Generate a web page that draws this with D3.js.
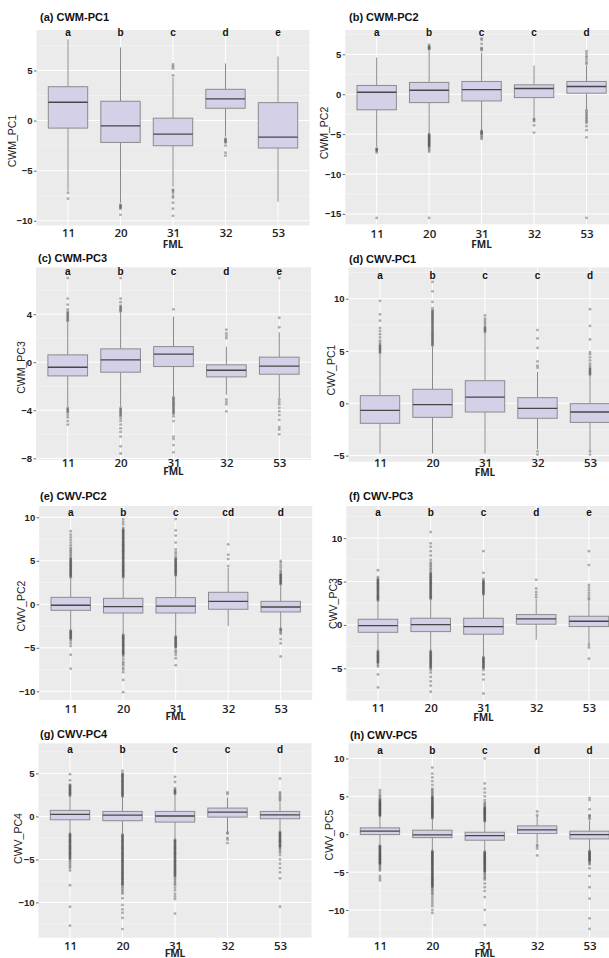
<!DOCTYPE html>
<html>
<head>
<meta charset="utf-8">
<script src="https://cdn.jsdelivr.net/npm/d3@7"></script>
<style>
  html, body { margin: 0; padding: 0; background: #ffffff; }
  svg { display: block; }
</style>
</head>
<body>
<div id="chart"></div>
<script>
// ---------------- DATA ----------------
const categories = ["11", "20", "31", "32", "53"];
const panelTitles = ["(a) CWM-PC1", "(b) CWM-PC2", "(c) CWM-PC3", "(d) CWV-PC1",
                     "(e) CWV-PC2", "(f) CWV-PC3", "(g) CWV-PC4", "(h) CWV-PC5"];
const yAxisTitles = ["CWM_PC1", "CWM_PC2", "CWM_PC3", "CWV_PC1",
                     "CWV_PC2", "CWV_PC3", "CWV_PC4", "CWV_PC5"];
const xAxisTitle = "FML";
const groupLetters = [
  ["a", "b", "c", "d", "e"],
  ["a", "b", "c", "c", "d"],
  ["a", "b", "c", "d", "e"],
  ["a", "b", "c", "c", "d"],
  ["a", "b", "c", "cd", "d"],
  ["a", "b", "c", "d", "e"],
  ["a", "b", "c", "c", "d"],
  ["a", "b", "c", "d", "d"]
];
const yTickValues = [
  [-10, -5, 0, 5],
  [-15, -10, -5, 0, 5],
  [-8, -4, 0, 4],
  [-5, 0, 5, 10],
  [-10, -5, 0, 5, 10],
  [-5, 0, 5, 10],
  [-10, -5, 0, 5],
  [-10, -5, 0, 5, 10]
];
const q1Values = [
  [-0.75, -2.18, -2.51, 1.23, -2.74],
  [-1.95, -1.05, -0.84, -0.42, 0.13],
  [-1.14, -0.83, -0.36, -1.22, -1.0],
  [-1.91, -1.34, -0.83, -1.43, -1.82],
  [-0.69, -1.0, -1.0, -0.57, -0.88],
  [-0.85, -0.77, -1.07, 0.08, -0.19],
  [-0.39, -0.5, -0.66, -0.08, -0.27],
  [-0.05, -0.45, -0.79, 0.08, -0.62]
];
const medianValues = [
  [1.83, -0.53, -1.35, 2.16, -1.65],
  [0.25, 0.5, 0.59, 0.72, 0.97],
  [-0.42, 0.19, 0.67, -0.67, -0.33],
  [-0.67, -0.13, 0.6, -0.48, -0.83],
  [-0.11, -0.27, -0.2, 0.34, -0.31],
  [-0.08, 0.03, -0.19, 0.69, 0.42],
  [0.23, 0.15, 0.05, 0.5, 0.19],
  [0.4, -0.09, -0.18, 0.57, -0.05]
];
const q3Values = [
  [3.38, 1.93, 0.24, 3.12, 1.79],
  [1.1, 1.48, 1.6, 1.18, 1.6],
  [0.61, 1.11, 1.3, -0.22, 0.42],
  [0.73, 1.34, 2.16, 0.54, -0.03],
  [0.8, 0.69, 0.77, 1.38, 0.34],
  [0.65, 0.77, 0.77, 1.19, 1.0],
  [0.7, 0.58, 0.58, 0.97, 0.58],
  [0.84, 0.53, 0.26, 1.1, 0.4]
];
const whiskerLow = [
  [-7.0, -8.2, -6.6, -1.6, -8.1],
  [-6.6, -4.9, -4.5, -2.9, -1.9],
  [-3.7, -3.7, -2.8, -2.7, -3.0],
  [-4.8, -4.8, -4.8, -4.4, -4.5],
  [-2.9, -3.4, -3.6, -2.5, -2.7],
  [-2.9, -2.9, -3.6, -1.7, -2.2],
  [-1.9, -2.0, -2.6, -1.8, -1.7],
  [-1.4, -2.1, -2.2, -1.2, -2.1]
];
const whiskerHigh = [
  [8.1, 7.3, 4.3, 5.7, 6.4],
  [4.6, 5.4, 5.2, 3.6, 3.6],
  [3.3, 4.1, 3.8, 1.3, 2.5],
  [4.7, 5.4, 6.7, 3.0, 2.6],
  [3.0, 3.0, 3.2, 4.2, 2.2],
  [2.7, 2.9, 3.4, 3.0, 2.7],
  [2.3, 2.2, 2.5, 2.2, 1.6],
  [2.3, 2.0, 1.6, 2.4, 1.8]
];
const outlierValues = [
  // (a) CWM-PC1
  [
    [-7.2, -7.8],
    [-8.4, -8.5, -8.6, -8.7, -8.8, -9.4],
    [4.5, 5.2, 5.4, 5.6, -6.9, -7.0, -7.2, -7.5, -7.7, -8.2, -8.8, -9.5],
    [-1.8, -1.9, -2.0, -2.1, -2.2, -2.5, -3.2, -3.5],
    []
  ],
  // (b) CWM-PC2
  [
    [-6.8, -6.9, -7.0, -7.1, -7.3, -15.5],
    [5.6, 5.7, 5.8, 5.9, 6.0, 6.2, -5.0, -5.1, -5.2, -5.3, -5.4, -5.5, -5.6, -5.7, -5.8, -5.9, -6.0, -6.1, -6.2, -6.3, -6.4, -6.5, -6.6, -6.8, -7.0, -7.2, -15.5],
    [5.5, 5.7, 5.8, 6.3, 6.8, 7.0, -4.6, -4.7, -4.8, -4.9, -5.0, -5.2, -5.4, -5.6],
    [-3.1, -3.2, -3.4, -3.9, -4.8],
    [3.8, 4.0, 4.3, 4.6, 4.8, 5.1, 5.4, -2.0, -2.2, -2.4, -2.6, -2.8, -3.0, -3.2, -3.4, -3.6, -4.0, -4.5, -5.4, -15.5]
  ],
  // (c) CWM-PC3
  [
    [3.4, 3.5, 3.6, 3.7, 3.8, 3.9, 4.0, 4.1, 4.2, 4.4, 4.8, 5.3, 7.0, -3.8, -3.9, -4.0, -4.1, -4.2, -4.4, -4.6, -4.9, -5.2],
    [4.2, 4.3, 4.4, 4.5, 4.6, 4.7, 5.0, 5.3, 7.0, -3.8, -3.9, -4.0, -4.1, -4.2, -4.3, -4.4, -4.5, -4.7, -4.9, -5.2, -5.5, -5.8, -6.2, -7.0, -7.6],
    [4.4, -2.9, -3.0, -3.1, -3.2, -3.3, -3.4, -3.5, -3.6, -3.7, -3.8, -3.9, -4.0, -4.1, -4.2, -4.3, -4.5, -4.9, -6.2, -6.4, -6.9, -7.5],
    [2.0, 2.2, 2.4, 2.7, -3.1, -3.3, -3.5, -4.1],
    [2.9, 3.7, 7.0, -3.1, -3.3, -3.5, -3.8, -4.1, -4.4, -4.8, -5.4, -5.6, -6.0]
  ],
  // (d) CWV-PC1
  [
    [4.8, 4.9, 5.0, 5.1, 5.2, 5.3, 5.4, 5.5, 5.6, 5.8, 6.0, 6.3, 6.6, 6.9, 7.2, 7.9, 8.5, 9.8],
    [5.5, 5.6, 5.7, 5.8, 5.9, 6.0, 6.1, 6.2, 6.3, 6.4, 6.5, 6.6, 6.7, 6.8, 6.9, 7.0, 7.1, 7.2, 7.3, 7.4, 7.5, 7.6, 7.7, 7.8, 7.9, 8.0, 8.1, 8.2, 8.3, 8.4, 8.5, 8.6, 8.7, 8.8, 8.9, 9.1, 9.7, 10.7, 11.6],
    [6.8, 6.9, 7.0, 7.1, 7.2, 7.3, 7.5, 7.7, 7.9, 8.1, 8.4],
    [3.4, 3.6, 4.0, 5.3, 6.2, 7.0, -4.6, -4.9],
    [2.7, 2.8, 2.9, 3.0, 3.1, 3.2, 3.3, 3.4, 3.6, 3.8, 4.1, 4.4, 4.7, 4.9, 6.1, 7.4, 9.0, -4.6, -4.9]
  ],
  // (e) CWV-PC2
  [
    [3.1, 3.2, 3.3, 3.4, 3.5, 3.6, 3.7, 3.8, 3.9, 4.0, 4.1, 4.2, 4.3, 4.4, 4.5, 4.6, 4.7, 4.8, 4.9, 5.0, 5.1, 5.2, 5.3, 5.5, 5.7, 5.9, 6.1, 6.3, 6.5, 6.8, 7.1, 7.4, 7.7, 8.0, 8.4,
     -3.0, -3.1, -3.2, -3.3, -3.4, -3.5, -3.6, -3.7, -3.8, -3.9, -4.0, -4.2, -4.5, -4.8, -5.8, -7.4],
    [3.1, 3.2, 3.3, 3.4, 3.5, 3.6, 3.7, 3.8, 3.9, 4.0, 4.1, 4.2, 4.3, 4.4, 4.5, 4.6, 4.7, 4.8, 4.9, 5.0, 5.1, 5.2, 5.3, 5.4, 5.5, 5.6, 5.7, 5.8, 5.9, 6.0,
     6.1, 6.2, 6.3, 6.4, 6.5, 6.6, 6.7, 6.8, 6.9, 7.0, 7.1, 7.2, 7.3, 7.4, 7.5, 7.6, 7.7, 7.8, 7.9, 8.0, 8.1, 8.2, 8.3, 8.4, 8.5, 8.6, 8.8, 9.2, 9.5, 9.8,
     -3.5, -3.6, -3.7, -3.8, -3.9, -4.0, -4.1, -4.2, -4.3, -4.4, -4.5, -4.6, -4.7, -4.8, -4.9, -5.0, -5.1, -5.2, -5.3, -5.4, -5.5, -5.6, -5.7, -5.8, -6.0,
     -6.3, -6.6, -6.8, -7.0, -7.3, -7.5, -7.8, -8.7, -10.1],
    [3.3, 3.4, 3.5, 3.6, 3.7, 3.8, 3.9, 4.0, 4.1, 4.2, 4.3, 4.4, 4.5, 4.6, 4.7, 4.8, 4.9, 5.0, 5.1, 5.2, 5.3, 5.5, 5.8, 6.0, 6.3, 7.1, 7.9, 8.5, 9.8,
     -3.7, -3.8, -3.9, -4.0, -4.1, -4.2, -4.3, -4.4, -4.5, -4.6, -4.7, -4.8, -4.9, -5.0, -5.3, -5.5, -5.8, -6.2, -7.0],
    [4.4, 5.2, 5.7, 6.9],
    [2.3, 2.4, 2.5, 2.6, 2.7, 2.8, 2.9, 3.0, 3.1, 3.2, 3.3, 3.4, 3.5, 3.7, 3.9, 4.2, 4.5, 4.8, 5.0,
     -2.8, -2.9, -3.0, -3.2, -3.4, -4.0, -4.5, -6.0]
  ],
  // (f) CWV-PC3
  [
    [2.8, 2.9, 3.0, 3.1, 3.2, 3.3, 3.4, 3.5, 3.6, 3.7, 3.8, 3.9, 4.0, 4.1, 4.2, 4.3, 4.4, 4.5, 4.6, 4.7, 4.8, 4.9, 5.0, 5.1, 5.2, 5.3, 5.5, 6.3,
     -3.0, -3.1, -3.2, -3.3, -3.4, -3.5, -3.6, -3.7, -3.8, -3.9, -4.0, -4.1, -4.2, -4.3, -4.4, -4.6, -4.8, -5.7, -7.2],
    [3.0, 3.1, 3.2, 3.3, 3.4, 3.5, 3.6, 3.7, 3.8, 3.9, 4.0, 4.1, 4.2, 4.3, 4.4, 4.5, 4.6, 4.7, 4.8, 4.9, 5.0, 5.1, 5.2, 5.3, 5.4, 5.5, 5.6, 5.7, 5.8, 5.9,
     6.0, 6.2, 6.4, 6.6, 6.8, 7.0, 7.2, 7.5, 8.0, 8.5, 9.0, 9.4, 10.7,
     -3.0, -3.1, -3.2, -3.3, -3.4, -3.5, -3.6, -3.7, -3.8, -3.9, -4.0, -4.1, -4.2, -4.3, -4.4, -4.5, -4.6, -4.7, -4.8, -4.9, -5.0, -5.2, -5.5,
     -6.0, -6.5, -7.0, -7.7],
    [3.5, 3.6, 3.7, 3.8, 3.9, 4.0, 4.1, 4.2, 4.3, 4.4, 4.5, 4.6, 4.7, 4.8, 4.9, 5.0, 5.1, 5.3, 6.0, 8.5,
     -3.7, -3.8, -3.9, -4.0, -4.1, -4.2, -4.3, -4.4, -4.5, -4.6, -4.7, -4.8, -4.9, -5.0, -5.2, -5.7, -6.3, -7.9],
    [3.2, 3.5, 3.8, 4.2, 5.2],
    [2.9, 3.1, 3.4, 3.7, 4.0, 4.3, 4.6, 6.9, 8.5, -2.3, -2.6, -3.9]
  ],
  // (g) CWV-PC4
  [
    [2.4, 2.5, 2.6, 2.7, 2.8, 2.9, 3.0, 3.1, 3.2, 3.3, 3.4, 3.5, 3.6, 3.7, 4.2, 4.9,
     -2.0, -2.1, -2.2, -2.3, -2.4, -2.5, -2.6, -2.7, -2.8, -2.9, -3.0, -3.1, -3.2, -3.3, -3.4, -3.5, -3.6, -3.7, -3.8, -3.9, -4.0,
     -4.1, -4.2, -4.3, -4.4, -4.5, -4.6, -4.7, -4.8, -4.9, -5.0, -5.2, -5.4, -5.6, -5.8, -6.0, -6.3, -8.0, -10.5, -12.7],
    [2.3, 2.4, 2.5, 2.6, 2.7, 2.8, 2.9, 3.0, 3.1, 3.2, 3.3, 3.4, 3.5, 3.6, 3.7, 3.8, 3.9, 4.0, 4.1, 4.2, 4.3, 4.4, 4.5, 4.6, 4.7, 4.8, 4.9, 5.0, 5.3,
     -2.1, -2.2, -2.3, -2.4, -2.5, -2.6, -2.7, -2.8, -2.9, -3.0, -3.1, -3.2, -3.3, -3.4, -3.5, -3.6, -3.7, -3.8, -3.9, -4.0,
     -4.1, -4.2, -4.3, -4.4, -4.5, -4.6, -4.7, -4.8, -4.9, -5.0, -5.1, -5.2, -5.3, -5.4, -5.5, -5.6, -5.7, -5.8, -5.9, -6.0,
     -6.1, -6.2, -6.3, -6.4, -6.5, -6.6, -6.7, -6.8, -6.9, -7.0, -7.1, -7.2, -7.3, -7.4, -7.5, -7.6, -7.7, -7.8, -7.9, -8.0,
     -8.2, -8.4, -8.6, -8.8, -9.0, -9.5, -10.3, -10.8, -11.2, -11.8, -13.1],
    [2.6, 2.7, 2.8, 2.9, 3.0, 3.1, 3.3, 4.0, 4.6,
     -2.7, -2.8, -2.9, -3.0, -3.1, -3.2, -3.3, -3.4, -3.5, -3.6, -3.7, -3.8, -3.9, -4.0,
     -4.1, -4.2, -4.3, -4.4, -4.5, -4.6, -4.7, -4.8, -4.9, -5.0, -5.1, -5.2, -5.3, -5.4, -5.5, -5.6, -5.7, -5.8, -5.9, -6.0,
     -6.1, -6.2, -6.3, -6.4, -6.5, -6.6, -6.7, -6.8, -6.9, -7.0, -7.2, -7.4, -7.6, -7.8, -8.0, -8.3, -8.6, -9.0, -9.3, -9.6, -11.3],
    [2.6, 2.8, -1.9, -2.0, -2.5, -2.7, -3.1],
    [1.8, 2.0, 2.2, 2.4, 2.6, 2.8, 4.4,
     -1.8, -1.9, -2.0, -2.1, -2.2, -2.3, -2.4, -2.5, -2.6, -2.7, -2.8, -2.9, -3.0, -3.1, -3.2, -3.3, -3.4, -3.5, -3.6, -3.8, -4.0, -4.2, -4.5,
     -5.0, -5.5, -6.0, -6.5, -7.2, -10.5]
  ],
  // (h) CWV-PC5
  [
    [2.4, 2.5, 2.6, 2.7, 2.8, 2.9, 3.0, 3.1, 3.2, 3.3, 3.4, 3.5, 3.6, 3.7, 3.8, 3.9, 4.0, 4.1, 4.2, 4.3, 4.4, 4.5, 4.6, 4.8, 5.0, 5.2, 5.5, 5.8,
     -1.5, -1.6, -1.7, -1.8, -1.9, -2.0, -2.1, -2.2, -2.3, -2.4, -2.5, -2.6, -2.7, -2.8, -2.9, -3.0, -3.1, -3.2, -3.3, -3.4, -3.5,
     -3.6, -3.7, -3.8, -3.9, -4.0, -4.2, -4.4, -4.6, -4.8, -5.5, -5.8, -6.1],
    [2.1, 2.2, 2.3, 2.4, 2.5, 2.6, 2.7, 2.8, 2.9, 3.0, 3.1, 3.2, 3.3, 3.4, 3.5, 3.6, 3.7, 3.8, 3.9, 4.0,
     4.1, 4.2, 4.3, 4.4, 4.5, 4.6, 4.7, 4.8, 4.9, 5.0, 5.2, 5.4, 5.6, 5.8, 6.0, 6.5, 7.0, 7.5, 8.0, 8.8,
     -2.2, -2.3, -2.4, -2.5, -2.6, -2.7, -2.8, -2.9, -3.0, -3.1, -3.2, -3.3, -3.4, -3.5, -3.6, -3.7, -3.8, -3.9, -4.0,
     -4.1, -4.2, -4.3, -4.4, -4.5, -4.6, -4.7, -4.8, -4.9, -5.0, -5.1, -5.2, -5.3, -5.4, -5.5, -5.6, -5.7, -5.8, -5.9, -6.0,
     -6.1, -6.2, -6.3, -6.4, -6.5, -6.6, -6.7, -6.8, -6.9, -7.0, -7.2, -7.4, -7.6, -7.8, -8.0, -8.3, -8.6, -8.9, -9.2, -9.5, -10.0, -10.4],
    [1.7, 1.8, 1.9, 2.0, 2.1, 2.2, 2.3, 2.4, 2.5, 2.6, 2.7, 2.8, 2.9, 3.0, 3.1, 3.2, 3.3, 3.4, 3.5, 3.6, 3.8, 4.0, 4.2, 4.5,
     5.0, 5.5, 6.0, 6.7, 10.0,
     -2.3, -2.4, -2.5, -2.6, -2.7, -2.8, -2.9, -3.0, -3.1, -3.2, -3.3, -3.4, -3.5, -3.6, -3.7, -3.8, -3.9, -4.0,
     -4.1, -4.2, -4.3, -4.4, -4.5, -4.6, -4.7, -4.8, -4.9, -5.0, -5.2, -5.4, -5.6, -5.8, -6.0,
     -6.5, -7.0, -7.5, -8.3, -10.0, -12.0],
    [2.5, 3.0, -1.4, -1.6, -1.9, -2.8],
    [2.0, 2.2, 2.4, 2.5, 3.3, 4.5, 4.8,
     -2.2, -2.3, -2.4, -2.5, -2.6, -2.7, -2.8, -2.9, -3.0, -3.1, -3.2, -3.3, -3.4, -3.5, -3.6, -3.8, -4.0,
     -4.5, -5.5, -7.0, -8.5, -11.1, -12.5]
  ]
];

// ---------------- LAYOUT ----------------
const W = 609, H = 958;
const panelLayout = [
  {left: 36.5, right: 309.5, top: 30, bottom: 225.5, yDomain: [-10.47, 9.04], titleX: 40, titleY: 21, yTitleX: 12.5, yTitleY: 141, letterDy: 6, xLabelY: 237, fmlY: 248},
  {left: 345.2, right: 618, top: 30, bottom: 224.3, yDomain: [-16.3, 8.05], titleX: 349, titleY: 21, yTitleX: 324, yTitleY: 133, letterDy: 6, xLabelY: 238, fmlY: 247.5},
  {left: 36, right: 311, top: 267.3, bottom: 460, yDomain: [-8.14, 7.9], titleX: 38, titleY: 262, yTitleX: 21, yTitleY: 367.5, letterDy: 8, xLabelY: 466.5, fmlY: 475},
  {left: 348.5, right: 621.5, top: 267.3, bottom: 461.7, yDomain: [-5.58, 13.0], titleX: 349, titleY: 263, yTitleX: 331, yTitleY: 370, letterDy: 12, xLabelY: 466.5, fmlY: 475.5},
  {left: 39.2, right: 312.2, top: 506, bottom: 700, yDomain: [-11.0, 11.3], titleX: 40, titleY: 500, yTitleX: 21.7, yTitleY: 606, letterDy: 10, xLabelY: 712.5, fmlY: 720},
  {left: 346.3, right: 620.6, top: 506, bottom: 700.7, yDomain: [-8.73, 13.7], titleX: 349, titleY: 500, yTitleX: 333, yTitleY: 603.5, letterDy: 10, xLabelY: 712, fmlY: 720.5},
  {left: 38.5, right: 311.5, top: 743.3, bottom: 937.7, yDomain: [-14.1, 8.5], titleX: 40, titleY: 738, yTitleX: 18.3, yTitleY: 838.5, letterDy: 10, xLabelY: 949.5, fmlY: 956.5},
  {left: 348.5, right: 621, top: 743.3, bottom: 937.7, yDomain: [-13.66, 12.0], titleX: 350, titleY: 739, yTitleX: 329, yTitleY: 835, letterDy: 10.5, xLabelY: 949.5, fmlY: 957}
];

const style = {
  panelBg: "#EBEBEB",
  boxFill: "#D4D0E8",
  boxStroke: "#8C8C8C",
  medianStroke: "#474747",
  whisker: "#8A8A8A",
  outlier: "#333333"
};

const svg = d3.select("#chart").append("svg")
  .attr("width", W).attr("height", H)
  .attr("viewBox", `0 0 ${W} ${H}`);
svg.append("rect").attr("width", W).attr("height", H).attr("fill", "#fff");

const defs = svg.append("defs");
const xTickFont = 11.5;

panelLayout.forEach((L, i) => {
  const x = d3.scalePoint().domain(categories).range([L.left, L.right]).padding(0.6);
  const y = d3.scaleLinear().domain(L.yDomain).range([L.bottom, L.top]);
  const boxW = x.step() * 0.75;
  const g = svg.append("g");

  defs.append("clipPath").attr("id", "clip" + i)
    .append("rect").attr("x", L.left).attr("y", L.top)
    .attr("width", L.right - L.left).attr("height", L.bottom - L.top);

  // background
  g.append("rect").attr("x", L.left).attr("y", L.top)
    .attr("width", L.right - L.left).attr("height", L.bottom - L.top)
    .attr("fill", style.panelBg);

  const ticks = yTickValues[i];
  const stepT = ticks[1] - ticks[0];
  const minor = [ticks[0] - stepT / 2].concat(ticks.map(t => t + stepT / 2))
    .filter(v => v > L.yDomain[0] && v < L.yDomain[1]);

  const pg = g.append("g").attr("clip-path", `url(#clip${i})`);
  // minor grid
  pg.selectAll(".minor").data(minor).join("line")
    .attr("x1", L.left).attr("x2", L.right)
    .attr("y1", d => y(d)).attr("y2", d => y(d))
    .attr("stroke", "#F6F6F6").attr("stroke-width", 0.6);
  // major grid
  pg.selectAll(".major").data(ticks).join("line")
    .attr("x1", L.left).attr("x2", L.right)
    .attr("y1", d => y(d)).attr("y2", d => y(d))
    .attr("stroke", "#FFFFFF").attr("stroke-width", 1);
  pg.selectAll(".vgrid").data(categories).join("line")
    .attr("x1", d => x(d)).attr("x2", d => x(d))
    .attr("y1", L.top).attr("y2", L.bottom)
    .attr("stroke", "#FFFFFF").attr("stroke-width", 1);

  // boxes
  categories.forEach((c, j) => {
    const cx = x(c);
    pg.append("line").attr("x1", cx).attr("x2", cx)
      .attr("y1", y(q3Values[i][j])).attr("y2", y(whiskerHigh[i][j]))
      .attr("stroke", style.whisker).attr("stroke-width", 1);
    pg.append("line").attr("x1", cx).attr("x2", cx)
      .attr("y1", y(q1Values[i][j])).attr("y2", y(whiskerLow[i][j]))
      .attr("stroke", style.whisker).attr("stroke-width", 1);
    pg.append("rect")
      .attr("x", cx - boxW / 2).attr("width", boxW)
      .attr("y", y(q3Values[i][j]))
      .attr("height", y(q1Values[i][j]) - y(q3Values[i][j]))
      .attr("fill", style.boxFill).attr("stroke", style.boxStroke).attr("stroke-width", 1);
    pg.append("line")
      .attr("x1", cx - boxW / 2).attr("x2", cx + boxW / 2)
      .attr("y1", y(medianValues[i][j])).attr("y2", y(medianValues[i][j]))
      .attr("stroke", style.medianStroke).attr("stroke-width", 1.3);
    pg.selectAll(null).data(outlierValues[i][j]).join("circle")
      .attr("cx", cx).attr("cy", d => y(d)).attr("r", 1.4)
      .attr("fill", style.outlier).attr("fill-opacity", 0.38);
  });

  // group letters
  g.selectAll(".letter").data(categories).join("text")
    .attr("x", d => x(d)).attr("y", L.top + L.letterDy)
    .attr("text-anchor", "middle")
    .attr("font-family", "Liberation Sans, Arial, sans-serif")
    .attr("font-weight", "bold").attr("font-size", 10).attr("fill", "#111")
    .text((d, j) => groupLetters[i][j]);

  // y axis
  const yAxis = g.append("g").attr("transform", `translate(${L.left},0)`)
    .call(d3.axisLeft(y).tickValues(ticks).tickSize(2.5).tickPadding(1.5).tickFormat(d3.format("d")));
  yAxis.select(".domain").remove();
  yAxis.selectAll(".tick line").attr("stroke", "#444").attr("stroke-width", 0.8);
  yAxis.selectAll(".tick text")
    .attr("font-family", "Liberation Sans, Arial, sans-serif")
    .attr("font-size", 9.5).attr("font-weight", "bold").attr("fill", "#222");

  // x axis
  const xAxis = g.append("g").attr("transform", `translate(0,${L.bottom})`)
    .call(d3.axisBottom(x).tickSize(0).tickPadding(L.xLabelY - L.bottom - 0.71 * xTickFont));
  xAxis.select(".domain").remove();
  xAxis.selectAll(".tick text")
    .attr("font-family", "Open Sans, sans-serif")
    .attr("font-size", xTickFont).attr("font-weight", 600).attr("fill", "#222");

  // x title
  g.append("text").attr("x", (L.left + L.right) / 2).attr("y", L.fmlY)
    .attr("text-anchor", "middle")
    .attr("font-family", "Open Sans, sans-serif")
    .attr("font-size", 10).attr("font-weight", 700).attr("fill", "#222")
    .text(xAxisTitle);

  // y title
  g.append("text")
    .attr("transform", `translate(${L.yTitleX},${L.yTitleY}) rotate(-90)`)
    .attr("text-anchor", "middle").attr("dy", "0.35em")
    .attr("font-family", "Liberation Sans, Arial, sans-serif")
    .attr("font-size", 10.5).attr("fill", "#222")
    .text(yAxisTitles[i]);

  // panel title
  g.append("text").attr("x", L.titleX).attr("y", L.titleY)
    .attr("font-family", "Liberation Sans, Arial, sans-serif")
    .attr("font-size", 11).attr("font-weight", "bold").attr("fill", "#111")
    .text(panelTitles[i]);
});
</script>
</body>
</html>
